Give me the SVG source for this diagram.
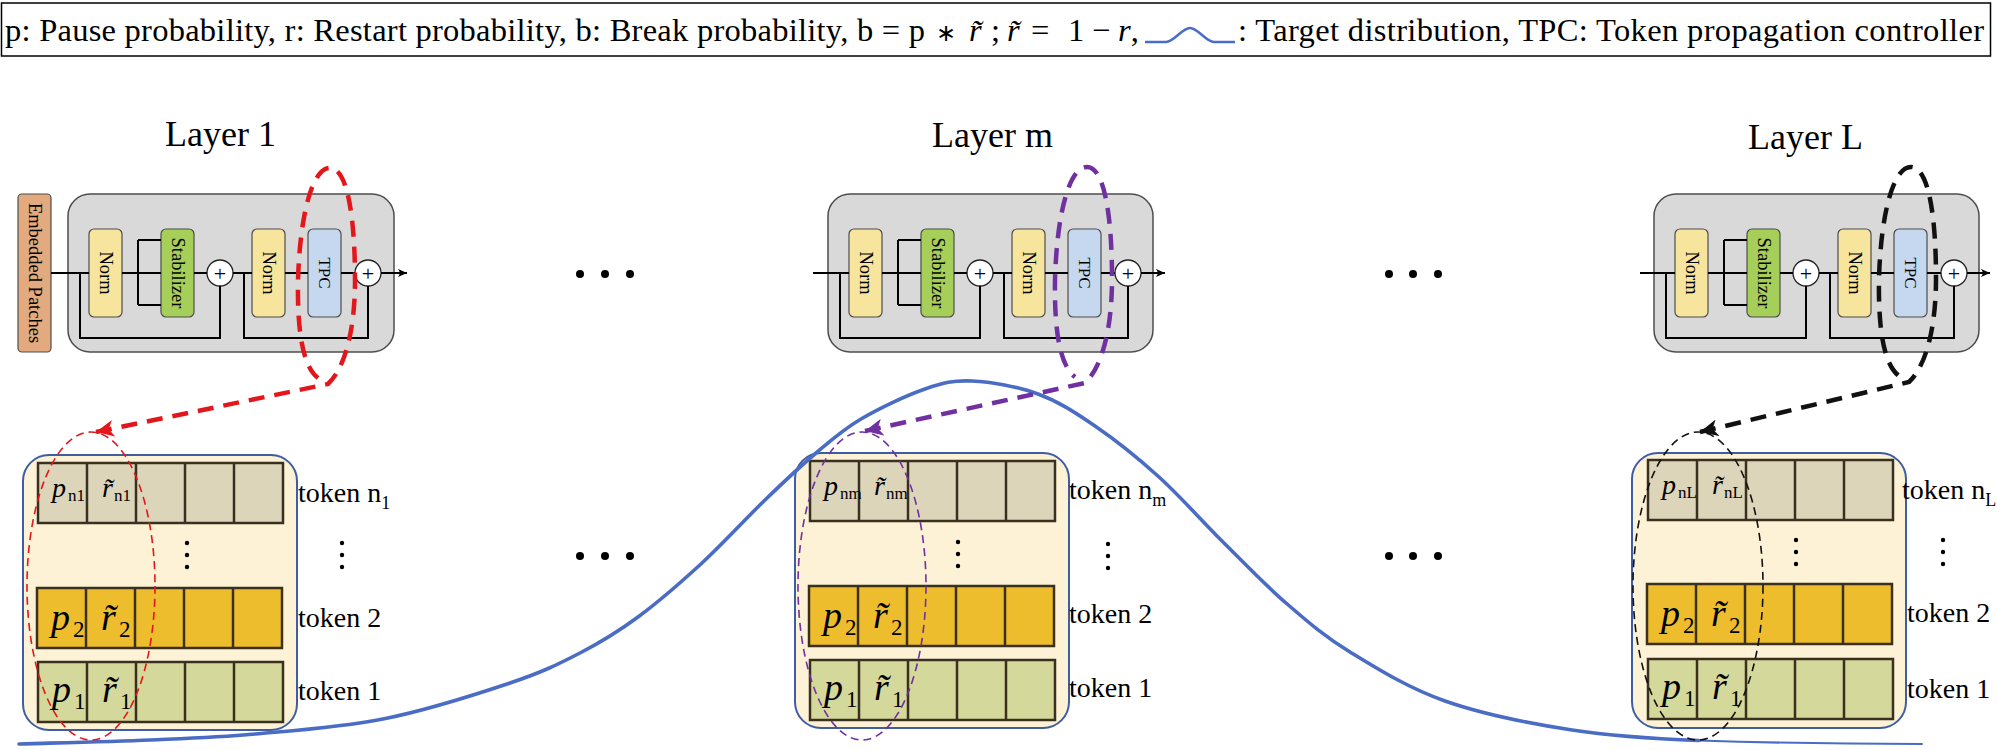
<svg xmlns="http://www.w3.org/2000/svg" width="1997" height="750" viewBox="0 0 1997 750">
<style>
text{font-family:"Liberation Serif","Times New Roman",serif;fill:#000}
.blk{fill:#d9d9d9;stroke:#4d4d4d;stroke-width:1.5}
.norm{fill:#f8e59d;stroke:#4d4d4d;stroke-width:1.2}
.stab{fill:#a6cf5a;stroke:#4d4d4d;stroke-width:1.2}
.tpc{fill:#c6d8ef;stroke:#4d4d4d;stroke-width:1.2}
.plus{fill:#fff;stroke:#222;stroke-width:1.3}
.flow{fill:none;stroke:#000;stroke-width:2}
.lbl{font-size:18.5px}
.ttl{font-size:36px}
.panel{fill:#fdf2d5}
.pedge{fill:none;stroke:#3f5da3;stroke-width:2}
.rowA{fill:#ddd5b9}
.rowB{fill:#eebd2e}
.rowC{fill:#d4d89b}
.cell{stroke:#3a3020;stroke-width:2.5}
.var{font-style:italic}
.tok{font-size:28px}
.dist{fill:none;stroke:#4a6cc4;stroke-linecap:round}
.loop{fill:none;stroke-width:4.5;stroke-dasharray:16 10}
.ell{fill:none;stroke-width:1.6;stroke-dasharray:8 5}
.leg{font-size:32.5px}
</style>
<defs>
<marker id="ah" viewBox="0 0 10 10" refX="10" refY="5" markerWidth="9" markerHeight="9" markerUnits="userSpaceOnUse" orient="auto"><path d="M0,0.5 L10,5 L0,9.5 L2.5,5 z" fill="#000"/></marker>
<marker id="ahR" viewBox="0 0 18 17" refX="18" refY="8.5" markerWidth="18" markerHeight="17" markerUnits="userSpaceOnUse" orient="auto-start-reverse"><path d="M0,0 L18,8.5 L0,17 L5,8.5 z" fill="#e3171b"/></marker>
<marker id="ahP" viewBox="0 0 18 17" refX="18" refY="8.5" markerWidth="18" markerHeight="17" markerUnits="userSpaceOnUse" orient="auto-start-reverse"><path d="M0,0 L18,8.5 L0,17 L5,8.5 z" fill="#7030a0"/></marker>
<marker id="ahK" viewBox="0 0 18 17" refX="18" refY="8.5" markerWidth="18" markerHeight="17" markerUnits="userSpaceOnUse" orient="auto-start-reverse"><path d="M0,0 L18,8.5 L0,17 L5,8.5 z" fill="#111"/></marker>
</defs>

<g id="legend">
<rect x="1.5" y="3" width="1989" height="53" fill="#fff" stroke="#000" stroke-width="1.5"/>
<text class="leg" x="5" y="41" textLength="920" lengthAdjust="spacing">p: Pause probability, r: Restart probability, b: Break probability, b = p</text>
<text x="936" y="41" font-size="24" font-family="DejaVu Sans, sans-serif">∗</text>
<text class="leg var" x="969" y="41">r&#x303;</text>
<text class="leg" x="991" y="41">;</text>
<text class="leg" y="41"><tspan x="1007" font-style="italic">r&#x303;</tspan><tspan x="1031">=</tspan><tspan x="1068">1</tspan><tspan x="1092">−</tspan><tspan x="1118" font-style="italic">r</tspan><tspan>,</tspan></text>
<path d="M1145 42 L1166 42 C1174 42 1182 28 1190 28 C1198 28 1206 42 1214 42 L1235 42" fill="none" stroke="#4a6cc4" stroke-width="2.5"/>
<text class="leg" x="1238" y="41" textLength="746" lengthAdjust="spacing">: Target distribution, TPC: Token propagation controller</text>
</g>

<g id="embedded-patches">
<rect x="18" y="194" width="33" height="158" rx="4" fill="#e2aa7e" stroke="#4d4d4d" stroke-width="1.2"/>
<text transform="translate(34.5,273) rotate(90)" text-anchor="middle" dominant-baseline="central" font-size="18.5">Embedded Patches</text>
</g>

<g id="layer-1" transform="translate(68,0)">
<text class="ttl" x="97" y="146">Layer 1</text>
<rect class="blk" x="0" y="194" width="326" height="158" rx="22"/>
<rect class="norm" x="21" y="229" width="33" height="88" rx="5"/>
<text class="lbl" transform="translate(37.5,273) rotate(90)" text-anchor="middle" dominant-baseline="central">Norm</text>
<rect class="stab" x="93" y="229" width="33" height="88" rx="5"/>
<text class="lbl" transform="translate(109.5,273) rotate(90)" text-anchor="middle" dominant-baseline="central">Stabilizer</text>
<circle class="plus" cx="152" cy="273" r="13"/>
<text x="152" y="280.5" font-size="22" text-anchor="middle">+</text>
<rect class="norm" x="184" y="229" width="33" height="88" rx="5"/>
<text class="lbl" transform="translate(200.5,273) rotate(90)" text-anchor="middle" dominant-baseline="central">Norm</text>
<rect class="tpc" x="240" y="229" width="33" height="88" rx="5"/>
<text transform="translate(256.5,273) rotate(90)" text-anchor="middle" dominant-baseline="central" font-size="17">TPC</text>
<circle class="plus" cx="300" cy="273" r="13"/>
<text x="300" y="280.5" font-size="22" text-anchor="middle">+</text>
</g>

<g id="layer-m" transform="translate(828,0)">
<text class="ttl" x="104" y="147">Layer m</text>
<rect class="blk" x="0" y="194" width="325" height="158" rx="22"/>
<rect class="norm" x="21" y="229" width="33" height="88" rx="5"/>
<text class="lbl" transform="translate(37.5,273) rotate(90)" text-anchor="middle" dominant-baseline="central">Norm</text>
<rect class="stab" x="93" y="229" width="33" height="88" rx="5"/>
<text class="lbl" transform="translate(109.5,273) rotate(90)" text-anchor="middle" dominant-baseline="central">Stabilizer</text>
<circle class="plus" cx="152" cy="273" r="13"/>
<text x="152" y="280.5" font-size="22" text-anchor="middle">+</text>
<rect class="norm" x="184" y="229" width="33" height="88" rx="5"/>
<text class="lbl" transform="translate(200.5,273) rotate(90)" text-anchor="middle" dominant-baseline="central">Norm</text>
<rect class="tpc" x="240" y="229" width="33" height="88" rx="5"/>
<text transform="translate(256.5,273) rotate(90)" text-anchor="middle" dominant-baseline="central" font-size="17">TPC</text>
<circle class="plus" cx="300" cy="273" r="13"/>
<text x="300" y="280.5" font-size="22" text-anchor="middle">+</text>
</g>

<g id="layer-L" transform="translate(1654,0)">
<text class="ttl" x="94" y="149">Layer L</text>
<rect class="blk" x="0" y="194" width="325" height="158" rx="22"/>
<rect class="norm" x="21" y="229" width="33" height="88" rx="5"/>
<text class="lbl" transform="translate(37.5,273) rotate(90)" text-anchor="middle" dominant-baseline="central">Norm</text>
<rect class="stab" x="93" y="229" width="33" height="88" rx="5"/>
<text class="lbl" transform="translate(109.5,273) rotate(90)" text-anchor="middle" dominant-baseline="central">Stabilizer</text>
<circle class="plus" cx="152" cy="273" r="13"/>
<text x="152" y="280.5" font-size="22" text-anchor="middle">+</text>
<rect class="norm" x="184" y="229" width="33" height="88" rx="5"/>
<text class="lbl" transform="translate(200.5,273) rotate(90)" text-anchor="middle" dominant-baseline="central">Norm</text>
<rect class="tpc" x="240" y="229" width="33" height="88" rx="5"/>
<text transform="translate(256.5,273) rotate(90)" text-anchor="middle" dominant-baseline="central" font-size="17">TPC</text>
<circle class="plus" cx="300" cy="273" r="13"/>
<text x="300" y="280.5" font-size="22" text-anchor="middle">+</text>
</g>

<g id="tokens-1" transform="translate(23,455)">
<rect class="panel" x="0" y="0" width="274" height="275" rx="26"/>
<rect class="rowA cell" x="15" y="8" width="245" height="60"/>
<path class="cell" d="M64 8V68M113 8V68M162 8V68M211 8V68"/>
<rect class="rowB cell" x="14" y="133" width="245" height="60"/>
<path class="cell" d="M63 133V193M112 133V193M161 133V193M210 133V193"/>
<rect class="rowC cell" x="15" y="207" width="245" height="60"/>
<path class="cell" d="M64 207V267M113 207V267M162 207V267M211 207V267"/>
<rect class="pedge" x="0" y="0" width="274" height="275" rx="26"/>
<text class="var" x="29" y="42" font-size="28">p</text><text x="45" y="46" font-size="17">n1</text>
<text class="var" x="79" y="42" font-size="28">r&#x303;</text><text x="91" y="46" font-size="17">n1</text>
<text class="var" x="28" y="175" font-size="38">p</text><text x="50" y="182" font-size="23">2</text>
<text class="var" x="78" y="175" font-size="38">r&#x303;</text><text x="96" y="182" font-size="23">2</text>
<text class="var" x="29" y="247" font-size="38">p</text><text x="51" y="254" font-size="23">1</text>
<text class="var" x="79" y="247" font-size="38">r&#x303;</text><text x="97" y="254" font-size="23">1</text>
<circle cx="164" cy="88" r="2.2"/><circle cx="164" cy="100" r="2.2"/><circle cx="164" cy="112" r="2.2"/>
<circle cx="319" cy="88" r="2.2"/><circle cx="319" cy="100" r="2.2"/><circle cx="319" cy="112" r="2.2"/>
<text class="tok" x="275" y="47">token n<tspan font-size="18" dy="7">1</tspan></text>
<text class="tok" x="275" y="172">token 2</text>
<text class="tok" x="275" y="245">token 1</text>
</g>

<g id="tokens-m" transform="translate(795,453)">
<rect class="panel" x="0" y="0" width="274" height="275" rx="26"/>
<rect class="rowA cell" x="15" y="8" width="245" height="60"/>
<path class="cell" d="M64 8V68M113 8V68M162 8V68M211 8V68"/>
<rect class="rowB cell" x="14" y="133" width="245" height="60"/>
<path class="cell" d="M63 133V193M112 133V193M161 133V193M210 133V193"/>
<rect class="rowC cell" x="15" y="207" width="245" height="60"/>
<path class="cell" d="M64 207V267M113 207V267M162 207V267M211 207V267"/>
<rect class="pedge" x="0" y="0" width="274" height="275" rx="26"/>
<text class="var" x="29" y="42" font-size="28">p</text><text x="45" y="46" font-size="17">nm</text>
<text class="var" x="79" y="42" font-size="28">r&#x303;</text><text x="91" y="46" font-size="17">nm</text>
<text class="var" x="28" y="175" font-size="38">p</text><text x="50" y="182" font-size="23">2</text>
<text class="var" x="78" y="175" font-size="38">r&#x303;</text><text x="96" y="182" font-size="23">2</text>
<text class="var" x="29" y="247" font-size="38">p</text><text x="51" y="254" font-size="23">1</text>
<text class="var" x="79" y="247" font-size="38">r&#x303;</text><text x="97" y="254" font-size="23">1</text>
<circle cx="163" cy="89" r="2.2"/><circle cx="163" cy="101" r="2.2"/><circle cx="163" cy="113" r="2.2"/>
<circle cx="313" cy="91" r="2.2"/><circle cx="313" cy="103" r="2.2"/><circle cx="313" cy="115" r="2.2"/>
<text class="tok" x="274" y="46">token n<tspan font-size="18" dy="7">m</tspan></text>
<text class="tok" x="274" y="170">token 2</text>
<text class="tok" x="274" y="244">token 1</text>
</g>

<g id="tokens-L" transform="translate(1632,453)">
<rect class="panel" x="0" y="0" width="274" height="275" rx="26"/>
<rect class="rowA cell" x="16" y="7" width="245" height="60"/>
<path class="cell" d="M65 7V67M114 7V67M163 7V67M212 7V67"/>
<rect class="rowB cell" x="15" y="131" width="245" height="60"/>
<path class="cell" d="M64 131V191M113 131V191M162 131V191M211 131V191"/>
<rect class="rowC cell" x="16" y="206" width="245" height="60"/>
<path class="cell" d="M65 206V266M114 206V266M163 206V266M212 206V266"/>
<rect class="pedge" x="0" y="0" width="274" height="275" rx="26"/>
<text class="var" x="30" y="41" font-size="28">p</text><text x="46" y="45" font-size="17">nL</text>
<text class="var" x="80" y="41" font-size="28">r&#x303;</text><text x="92" y="45" font-size="17">nL</text>
<text class="var" x="29" y="173" font-size="38">p</text><text x="51" y="180" font-size="23">2</text>
<text class="var" x="79" y="173" font-size="38">r&#x303;</text><text x="97" y="180" font-size="23">2</text>
<text class="var" x="30" y="246" font-size="38">p</text><text x="52" y="253" font-size="23">1</text>
<text class="var" x="80" y="246" font-size="38">r&#x303;</text><text x="98" y="253" font-size="23">1</text>
<circle cx="164" cy="87" r="2.2"/><circle cx="164" cy="99" r="2.2"/><circle cx="164" cy="111" r="2.2"/>
<circle cx="311" cy="87" r="2.2"/><circle cx="311" cy="99" r="2.2"/><circle cx="311" cy="111" r="2.2"/>
<text class="tok" x="270" y="46">token n<tspan font-size="18" dy="7">L</tspan></text>
<text class="tok" x="275" y="169">token 2</text>
<text class="tok" x="275" y="245">token 1</text>
</g>

<g id="ellipsis">
<circle cx="580" cy="274" r="4"/><circle cx="605" cy="274" r="4"/><circle cx="630" cy="274" r="4"/>
<circle cx="1389" cy="274" r="4"/><circle cx="1413" cy="274" r="4"/><circle cx="1438" cy="274" r="4"/>
<circle cx="580" cy="556" r="4"/><circle cx="605" cy="556" r="4"/><circle cx="630" cy="556" r="4"/>
<circle cx="1389" cy="556" r="4"/><circle cx="1413" cy="556" r="4"/><circle cx="1438" cy="556" r="4"/>
</g>

<g id="target-distribution">
<path class="dist" stroke-width="3.6" d="M19 744 C40.8 743.3 110.7 741.7 150 740 C189.3 738.3 216.2 737.5 255 734 C293.8 730.5 340.5 727.5 383 719 C425.5 710.5 477.2 694 510 683 C542.8 672 558.7 664 580 653 C601.3 642 617.7 632 638 617 C658.3 602 680.8 582.5 702 563 C723.2 543.5 746 518.3 765 500 C784 481.7 800 466.5 816 453 C832 439.5 842.8 429.7 861 419 C879.2 408.3 906.5 395.3 925 389 C943.5 382.7 953.2 380.2 972 381 C990.8 381.8 1017.5 386.5 1038 394 C1058.5 401.5 1074.8 412.2 1095 426 C1115.2 439.8 1137.7 457.7 1159 477 C1180.3 496.3 1201.8 521 1223 542 C1244.2 563 1264.8 584.7 1286 603 C1307.2 621.3 1323.5 635.7 1350 652 C1376.5 668.3 1408 688 1445 701 C1482 714 1529.7 723.5 1572 730 C1614.3 736.5 1660 739 1699 740.5"/>
<path class="dist" stroke-width="2" d="M1699 740.5 C1760 742.5 1850 744 1922 744"/>
</g>

<g id="connectors">
<g class="flow" transform="translate(68,0)">
<path d="M-17 273H21M54 273H70M70 240V305M126 273H139M12 273V338H152V286M165 273H184M176 273V338H300V286M273 273H287"/>
<path d="M70 240H93M70 273H93M70 305H93M152 338V286M300 338V286M217 273H240M313 273H339" marker-end="url(#ah)"/>
</g>
<g class="flow" transform="translate(828,0)">
<path d="M-15 273H21M54 273H70M70 240V305M126 273H139M12 273V338H152V286M165 273H184M176 273V338H300V286M273 273H287"/>
<path d="M70 240H93M70 273H93M70 305H93M152 338V286M300 338V286M217 273H240M313 273H337" marker-end="url(#ah)"/>
</g>
<g class="flow" transform="translate(1654,0)">
<path d="M-14 273H21M54 273H70M70 240V305M126 273H139M12 273V338H152V286M165 273H184M176 273V338H300V286M273 273H287"/>
<path d="M70 240H93M70 273H93M70 305H93M152 338V286M300 338V286M217 273H240M313 273H336" marker-end="url(#ah)"/>
</g>
<path class="loop" stroke="#e3171b" marker-start="url(#ahR)" d="M96 432 L328 384 C345 368 355 330 355 280 C355 220 348 168 330 168 C312 168 300 215 298 280 C297 340 305 368 318 378"/>
<path class="loop" stroke="#7030a0" marker-start="url(#ahP)" d="M865 431 L1085 383 C1102 367 1112 329 1112 279 C1112 219 1105 167 1087 167 C1069 167 1057 214 1055 279 C1054 339 1062 367 1075 377"/>
<path class="loop" stroke="#111" marker-start="url(#ahK)" d="M1700 432 L1909 382 C1926 366 1936 328 1936 278 C1936 218 1929 167 1911 167 C1893 167 1881 214 1879 278 C1878 338 1886 366 1899 376"/>
</g>

<g id="highlights">
<ellipse class="ell" stroke="#e3171b" cx="91" cy="586" rx="64" ry="154"/>
<ellipse class="ell" stroke="#7030a0" cx="862" cy="586" rx="64" ry="154"/>
<ellipse class="ell" stroke="#111" cx="1698" cy="586" rx="65" ry="154"/>
</g>
</svg>
